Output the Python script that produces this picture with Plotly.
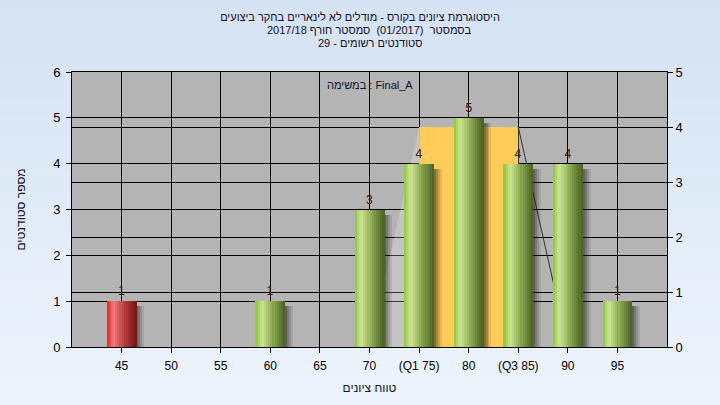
import plotly.graph_objects as go

# ---------------- data ----------------
categories = ["45", "50", "55", "60", "65", "70", "(Q1 75)", "80", "(Q3 85)", "90", "95"]
grades = [45, 50, 55, 60, 65, 70, 75, 80, 85, 90, 95]
counts = [1, 0, 0, 1, 0, 3, 4, 5, 4, 4, 1]
pass_grade = 55

# quartile box drawn against the right axis
box_labels = ["70", "(Q1 75)", "(Q3 85)", "90"]
box_heights = [0, 4, 4, 0]

left_axis_max = 6
right_axis_max = 5

title_lines = [
    "היסטוגרמת ציונים בקורס - מודלים לא לינאריים בחקר ביצועים",
    "בסמסטר  (01/2017)  סמסטר חורף 2017/18",
    "סטודנטים רשומים - 29",
]
task_label = "במשימה : Final_A"
x_title = "טווח ציונים"
y_title = "מספר סטודנטים"

# ---------------- styling helpers ----------------
FONT = "Liberation Sans, Arial, DejaVu Sans, sans-serif"
TITLE_COLOR = "#10102a"
BAR_W = 0.6
N_STRIPS = 14
PLOT_TOP, PLOT_H = 72, 275

green_stops = [(0.0, (140, 198, 50)), (0.22, (206, 230, 150)), (0.55, (142, 172, 84)), (1.0, (72, 96, 32))]
red_stops = [(0.0, (255, 22, 22)), (0.22, (242, 128, 128)), (0.55, (186, 66, 66)), (1.0, (118, 20, 20))]


def interp(stops, t):
    for (t0, c0), (t1, c1) in zip(stops[:-1], stops[1:]):
        if t <= t1:
            f = (t - t0) / (t1 - t0) if t1 > t0 else 0
            return "rgb(%d,%d,%d)" % tuple(round(a + (b - a) * f) for a, b in zip(c0, c1))
    return "rgb(%d,%d,%d)" % stops[-1][1]


def paper_y(px):
    """pixel row (from top of figure) -> paper coordinate"""
    return (PLOT_TOP + PLOT_H - px) / PLOT_H


fig = go.Figure()

# soft shadows to the right of / below each bar
for s, a in [(0.04, 0.26), (0.08, 0.2), (0.12, 0.15), (0.16, 0.1)]:
    fig.add_trace(go.Bar(
        x=categories, y=counts, base=-0.11,
        width=BAR_W, offset=-BAR_W / 2 + s,
        marker=dict(color="rgba(30,30,30,%g)" % a, line=dict(width=0)),
        hoverinfo="skip", showlegend=False,
    ))

# gradient bars made of vertical strips
sw = BAR_W / N_STRIPS
for i in range(N_STRIPS):
    t = (i + 0.5) / N_STRIPS
    cols = [interp(red_stops if g < pass_grade else green_stops, t) for g in grades]
    fig.add_trace(go.Bar(
        x=categories, y=counts,
        width=sw * 1.08, offset=-BAR_W / 2 + i * sw,
        marker=dict(color=cols, line=dict(width=0)),
        hoverinfo="skip", showlegend=False,
    ))

# value labels
fig.add_trace(go.Bar(
    x=categories, y=counts, width=BAR_W,
    marker=dict(color="rgba(0,0,0,0)", line=dict(width=0)),
    text=[str(c) if c else "" for c in counts],
    textposition="outside", cliponaxis=False,
    textfont=dict(family=FONT, size=12, color="#3a1010"),
    hoverinfo="skip", showlegend=False,
))

# invisible trace to activate the right axis
fig.add_trace(go.Scatter(x=[categories[0]], y=[0], yaxis="y2", mode="markers",
                         marker=dict(opacity=0), hoverinfo="skip", showlegend=False))

# ---------------- shapes ----------------
shapes = []
n_bands = 24
top_c, bot_c = (213, 226, 243), (237, 245, 253)
for k in range(n_bands):
    f = k / (n_bands - 1)
    c = tuple(round(a + (b - a) * f) for a, b in zip(top_c, bot_c))
    shapes.append(dict(type="rect", xref="paper", yref="paper", layer="below",
                       x0=-0.2, x1=1.2,
                       y0=1.3 - (k + 1) * 1.6 / n_bands, y1=1.3 - k * 1.6 / n_bands + 0.003,
                       fillcolor="rgb(%d,%d,%d)" % c, line=dict(width=0)))
shapes.append(dict(type="rect", xref="x domain", yref="y domain", layer="below",
                   x0=0, x1=1, y0=0, y1=1, fillcolor="rgb(180,180,180)", line=dict(width=0)))

scale = left_axis_max / right_axis_max  # right-axis value -> left-axis value
bx = [categories.index(c) for c in box_labels]
by = [h * scale for h in box_heights]
shapes.append(dict(type="path", xref="x", yref="y", layer="between",
                   path="M %g,%g L %g,%g L %g,%g Z" % (bx[0], by[0], bx[1], by[1], bx[1], by[0]),
                   fillcolor="rgba(255,255,255,0.22)", line=dict(width=0)))
shapes.append(dict(type="rect", xref="x", yref="y", layer="between",
                   x0=bx[1], x1=bx[2], y0=0, y1=by[1],
                   fillcolor="rgb(255,204,88)", line=dict(width=0)))
shapes.append(dict(type="line", xref="x", yref="y", layer="between",
                   x0=bx[2], y0=by[2], x1=bx[3], y1=by[3],
                   line=dict(color="rgb(50,50,50)", width=1)))

annotations = [
    dict(text=title_lines[1], xref="paper", yref="paper", x=0.5, y=paper_y(30),
         xanchor="center", yanchor="middle", showarrow=False,
         font=dict(family=FONT, size=11, color=TITLE_COLOR)),
    dict(text=title_lines[2], xref="paper", yref="paper", x=0.5, y=paper_y(43.3),
         xanchor="center", yanchor="middle", showarrow=False,
         font=dict(family=FONT, size=11, color=TITLE_COLOR)),
    dict(text=task_label, xref="paper", yref="paper", x=0.5, y=paper_y(85),
         xanchor="center", yanchor="middle", showarrow=False,
         font=dict(family=FONT, size=11, color=TITLE_COLOR)),
]

fig.update_layout(
    width=720, height=405,
    margin=dict(l=72, r=53, t=PLOT_TOP, b=405 - PLOT_TOP - PLOT_H, autoexpand=False),
    paper_bgcolor="rgb(225,235,248)",
    plot_bgcolor="rgba(0,0,0,0)",
    barmode="overlay", bargap=0,
    showlegend=False,
    font=dict(family=FONT, size=12, color="#000000"),
    title=dict(text=title_lines[0], x=0.5, xanchor="center",
               y=1 - 17 / 405, yanchor="middle",
               font=dict(family=FONT, size=11, color=TITLE_COLOR)),
    shapes=shapes,
    annotations=annotations,
    xaxis=dict(type="category", categoryorder="array", categoryarray=categories,
               range=[-1, len(categories)], automargin=False,
               showgrid=True, gridcolor="black", gridwidth=1,
               showline=True, linecolor="black", linewidth=1, mirror=True,
               ticks="outside", ticklen=5, tickcolor="black", ticklabelstandoff=3,
               tickfont=dict(family=FONT, size=12, color="black"),
               title=dict(text=x_title, font=dict(family=FONT, size=12, color=TITLE_COLOR), standoff=11)),
    yaxis=dict(range=[0, left_axis_max], dtick=1, automargin=False,
               showgrid=True, gridcolor="black", gridwidth=1,
               zeroline=False, showline=True, linecolor="black", linewidth=1,
               ticks="outside", ticklen=5, tickcolor="black", ticklabelstandoff=3,
               tickfont=dict(family=FONT, size=13, color="black"),
               title=dict(text=y_title, font=dict(family=FONT, size=12, color=TITLE_COLOR), standoff=24)),
    yaxis2=dict(range=[0, right_axis_max], dtick=1, overlaying="y", side="right", automargin=False,
                showgrid=True, gridcolor="black", gridwidth=1,
                zeroline=False, showline=True, linecolor="black", linewidth=1,
                ticks="outside", ticklen=5, tickcolor="black",
                tickfont=dict(family=FONT, size=13, color="black")),
)

fig.write_html("out.html", config={"displayModeBar": False},
               post_script="document.body.style.margin='0';")
